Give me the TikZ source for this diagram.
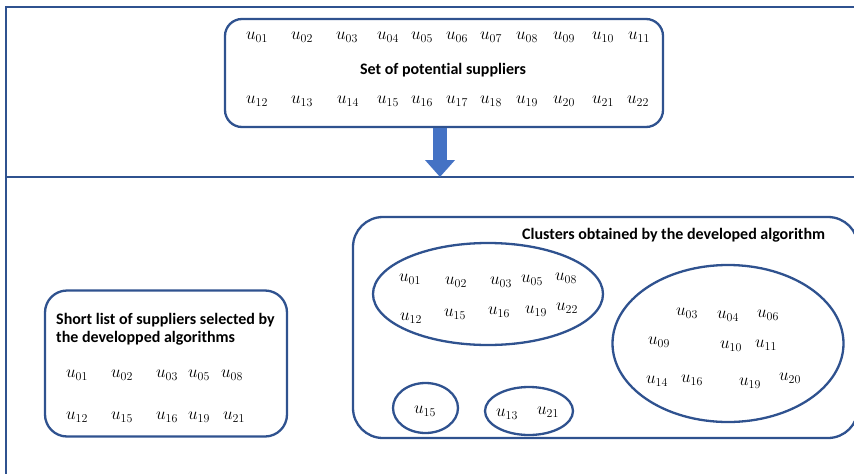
\documentclass[tikz,border=0pt]{standalone}
\usepackage{fontspec}
\setmainfont{Carlito}[Ligatures=NoCommon]
\usetikzlibrary{arrows.meta, positioning, shapes.geometric}

\definecolor{lineblue}{HTML}{2F528F}
\definecolor{arrowblue}{HTML}{4472C4}

\begin{document}
\begin{tikzpicture}[
    x=1pt, y=-1pt, % Pixel-like coordinates, y going down
    % Define box style
    box style/.style={
        draw=lineblue, % Border colour
        line width=2.3pt, % Border thickness
        rectangle, % Rectangle shape
        inner sep=0pt
      },
    % Define cluster style
    cluster style/.style={
        draw=lineblue,
        line width=2.3pt,
        ellipse, % Ellipse shape
        inner sep=0pt
      },
    % Define text styles
    title style/.style={font=\bfseries\fontsize{16}{18.5}\selectfont, inner sep=0pt, align=left},
    supplier/.style={font=\fontsize{18}{20}\selectfont, inner sep=0pt},
    % Define frame line style
    frame line/.style={draw=lineblue, line width=2pt}
  ]

  \useasboundingbox (0,0) rectangle (854,474);
  \clip (0,0) rectangle (854,474);

  % Frame lines
  \coordinate (FrameTop) at (6,7);
  \coordinate (FrameMid) at (6,177);
  \draw[frame line] (854,7) -- (FrameTop) -- (6,474);
  \draw[frame line] (FrameMid) -- (854,177);

  % Set of potential suppliers
  \node[box style, rounded corners=17pt, minimum width=438pt, minimum height=108pt] (Set) at (444,73) {};
  \node[title style] (SetTitle) at (443,70) {Set of potential suppliers};
  \foreach \x/\n in {257/01, 302/02, 347/03, 388/04, 422/05, 457/06, 491/07, 527/08, 564/09, 603/10, 639/11}
    \node[supplier] (top\n) at (\x,37) {$u_{\n}$};
  \foreach \x/\n in {257/12, 302/13, 348/14, 388/15, 422/16, 457/17, 491/18, 527/19, 564/20, 603/21, 638/22}
    \node[supplier] (top\n) at (\x,101) {$u_{\n}$};

  % Block arrow down to the split line
  \coordinate (Split) at (440,177);
  \draw[arrowblue, line width=14pt, -{Triangle[width=29pt, length=17pt]}] (Set.south -| Split) -- (Split);

  % Short list
  \node[box style, rounded corners=22pt, minimum width=242pt, minimum height=146pt] (Short) at (166,363.5) {};
  \node[title style, anchor=west] (ShortTitle) at (56,329) {Short list of suppliers selected by\\the developped algorithms};
  \foreach \x/\n in {77/01, 122/02, 167/03, 199/05, 232/08}
    \node[supplier] (short\n) at (\x,375) {$u_{\n}$};
  \foreach \x/\n in {77/12, 122/15, 167/16, 199/19, 234/21}
    \node[supplier] (short\n) at (\x,417) {$u_{\n}$};

  % Clusters
  \node[box style, rounded corners=30pt, minimum width=505pt, minimum height=221pt] (Clusters) at (605.5,327.5) {};
  \node[title style, anchor=west] (ClustersTitle) at (522,235) {Clusters obtained by the developed algorithm};

  % Cluster A
  \node[cluster style, minimum width=230pt, minimum height=102pt] (ClusterA) at (488,294) {};
  \foreach \x/\y/\n in {410/279/01, 456/282/02, 501/282/03, 532/280/05, 566/278/08,
                        411/318/12, 455/314/15, 499/312/16, 536/311/19, 567/308/22}
    \node[supplier] (cA\n) at (\x,\y) {$u_{\n}$};

  % Cluster B
  \node[cluster style, minimum width=231pt, minimum height=157pt] (ClusterB) at (728,343.5) {};
  \foreach \x/\y/\n in {687/313/03, 728/316/04, 768/315/06,
                        659/342/09, 731/346/10, 766/345/11,
                        657/381/14, 692/380/16, 750/383/19, 790/378/20}
    \node[supplier] (cB\n) at (\x,\y) {$u_{\n}$};

  % Cluster C and D
  \node[cluster style, minimum width=65pt, minimum height=50pt] (ClusterC) at (425.5,408) {};
  \node[supplier] (cC15) at (425,411) {$u_{15}$};
  \node[cluster style, minimum width=88pt, minimum height=48pt] (ClusterD) at (529,411) {};
  \node[supplier] (cD13) at (507,414) {$u_{13}$};
  \node[supplier] (cD21) at (548,412) {$u_{21}$};

\end{tikzpicture}
\end{document}
